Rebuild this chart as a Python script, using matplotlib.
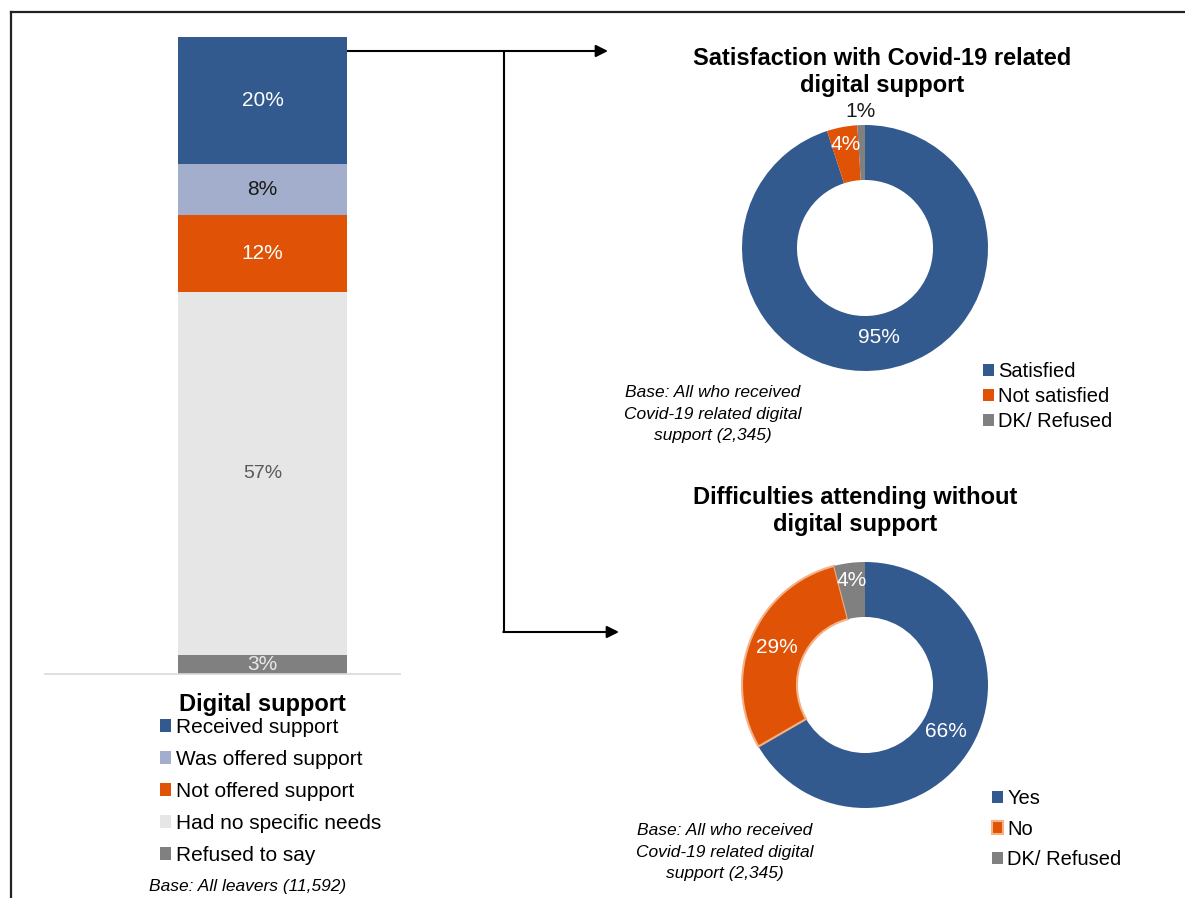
import numpy as np
import matplotlib
matplotlib.use("Agg")
import matplotlib.pyplot as plt
from matplotlib.patches import Patch

plt.rcParams['font.family'] = ['Liberation Sans', 'DejaVu Sans']

# Stacked bar: digital support among all leavers (top to bottom)
support_labels = ["Received support", "Was offered support", "Not offered support",
                  "Had no specific needs", "Refused to say"]
support_values = [20, 8, 12, 57, 3]
support_colors = ["#335A8E", "#A2AECB", "#E05206", "#E6E6E6", "#808080"]
support_text_colors = ["white", "#1A1A1A", "white", "#595959", "#E8E8E8"]

# Donut 1: satisfaction with Covid-19 related digital support
sat_labels = ["Satisfied", "Not satisfied", "DK/ Refused"]
sat_values = [95, 4, 1]

# Donut 2: difficulties attending without digital support
diff_labels = ["Yes", "No", "DK/ Refused"]
diff_values = [66, 29, 4]

donut_colors = ["#335A8E", "#E05206", "#808080"]

W, H = 1185, 898
fig = plt.figure(figsize=(W / 100, H / 100), dpi=100)


def fx(x):
    return x / W


def fy(y):
    return 1 - y / H


# ---- overlay for frame and connector arrows (pixel coords) ----
ov = fig.add_axes([0, 0, 1, 1], zorder=0)
ov.set_xlim(0, W)
ov.set_ylim(H, 0)
ov.axis("off")
ov.plot([10.5, W + 5], [11.5, 11.5], color="#222222", lw=1.6)
ov.plot([10.5, 10.5], [11.5, H + 5], color="#222222", lw=1.6)

ov.plot([504, 504], [51, 632], color="black", lw=1.5)
ov.annotate("", xy=(608, 51), xytext=(347, 51),
            arrowprops=dict(arrowstyle="-|>", color="black", lw=1.5,
                            mutation_scale=18, shrinkA=0, shrinkB=0))
ov.annotate("", xy=(619, 632), xytext=(503.3, 632),
            arrowprops=dict(arrowstyle="-|>", color="black", lw=1.5,
                            mutation_scale=18, shrinkA=0, shrinkB=0))

# ---- stacked bar ----
axb = fig.add_axes([fx(45), fy(674), (400 - 45) / W, (674 - 37) / H], zorder=1)
bottom = 0
for lab, val, col, tcol in reversed(list(zip(support_labels, support_values,
                                             support_colors, support_text_colors))):
    axb.bar(0, val, width=1.0, bottom=bottom, color=col, linewidth=0)
    axb.text(0, bottom + val / 2, f"{val}%", ha="center", va="center",
             fontsize=15 if val != 57 else 14, color=tcol)
    bottom += val
axb.set_xlim(-1.287, 0.814)
axb.set_ylim(0, 100)
for s in ["top", "right", "left"]:
    axb.spines[s].set_visible(False)
axb.spines["bottom"].set_color("#D9D9D9")
axb.spines["bottom"].set_linewidth(1.2)
axb.set_xticks([])
axb.set_yticks([])
axb.patch.set_alpha(0)

fig.text(fx(262), fy(705), "Digital support", ha="center", va="center",
         fontsize=17, weight="bold")
handles = [Patch(facecolor=c, edgecolor="none") for c in support_colors]
leg = fig.legend(handles, support_labels, loc="upper left",
                 bbox_to_anchor=(fx(160), fy(718)), frameon=False,
                 fontsize=15, handlelength=0.55, handleheight=0.55,
                 handletextpad=0.2, labelspacing=0.62, borderpad=0,
                 borderaxespad=0)
fig.text(fx(248), fy(886), "Base: All leavers (11,592)", ha="center", va="center",
         fontsize=12.5, style="italic")


# ---- donuts ----
def donut(cx, cy, values, label_r, label_colors, edge_colors):
    r = 123
    ax = fig.add_axes([fx(cx - r), fy(cy + r), 2 * r / W, 2 * r / H], zorder=2)
    wedges, _ = ax.pie(values, colors=donut_colors, startangle=90, counterclock=False,
                       radius=1, wedgeprops=dict(width=0.447, linewidth=0))
    for w, ec in zip(wedges, edge_colors):
        if ec:
            w.set_edgecolor(ec)
            w.set_linewidth(1.5)
    ax.set_xlim(-1, 1)
    ax.set_ylim(-1, 1)
    for w, v, lr, tc in zip(wedges, values, label_r, label_colors):
        ang = np.deg2rad((w.theta1 + w.theta2) / 2)
        ax.text(lr * np.cos(ang), lr * np.sin(ang), f"{v}%", ha="center",
                va="center", fontsize=15, color=tc)
    return ax


donut(865, 248, sat_values, [0.74, 0.86, 1.11], ["white", "white", "#1A1A1A"],
      [None, None, None])
donut(865, 685, diff_values, [0.76, 0.78, 0.86], ["white", "white", "white"],
      [None, "#F4B183", None])

fig.text(fx(882), fy(72), "Satisfaction with Covid-19 related\ndigital support",
         ha="center", va="center", fontsize=17, weight="bold", linespacing=1.25)
fig.text(fx(855), fy(511), "Difficulties attending without\ndigital support",
         ha="center", va="center", fontsize=17, weight="bold", linespacing=1.25)

h1 = [Patch(facecolor=c, edgecolor="none") for c in donut_colors]
fig.legend(h1, sat_labels, loc="upper left", bbox_to_anchor=(fx(983), fy(362)),
           frameon=False, fontsize=14.5, handlelength=0.55, handleheight=0.55,
           handletextpad=0.2, labelspacing=0.3, borderpad=0, borderaxespad=0)

h2 = [Patch(facecolor=donut_colors[0], edgecolor="none"),
      Patch(facecolor=donut_colors[1], edgecolor="#F4B183", linewidth=1.5),
      Patch(facecolor=donut_colors[2], edgecolor="none")]
fig.legend(h2, diff_labels, loc="upper left", bbox_to_anchor=(fx(992), fy(789)),
           frameon=False, fontsize=14.5, handlelength=0.55, handleheight=0.55,
           handletextpad=0.2, labelspacing=0.58, borderpad=0, borderaxespad=0)

base_note = "Base: All who received\nCovid-19 related digital\nsupport (2,345)"
fig.text(fx(713), fy(414), base_note, ha="center", va="center", fontsize=12.5,
         style="italic", linespacing=1.55)
fig.text(fx(725), fy(852), base_note, ha="center", va="center", fontsize=12.5,
         style="italic", linespacing=1.55)

fig.savefig("out.png", dpi=100)
